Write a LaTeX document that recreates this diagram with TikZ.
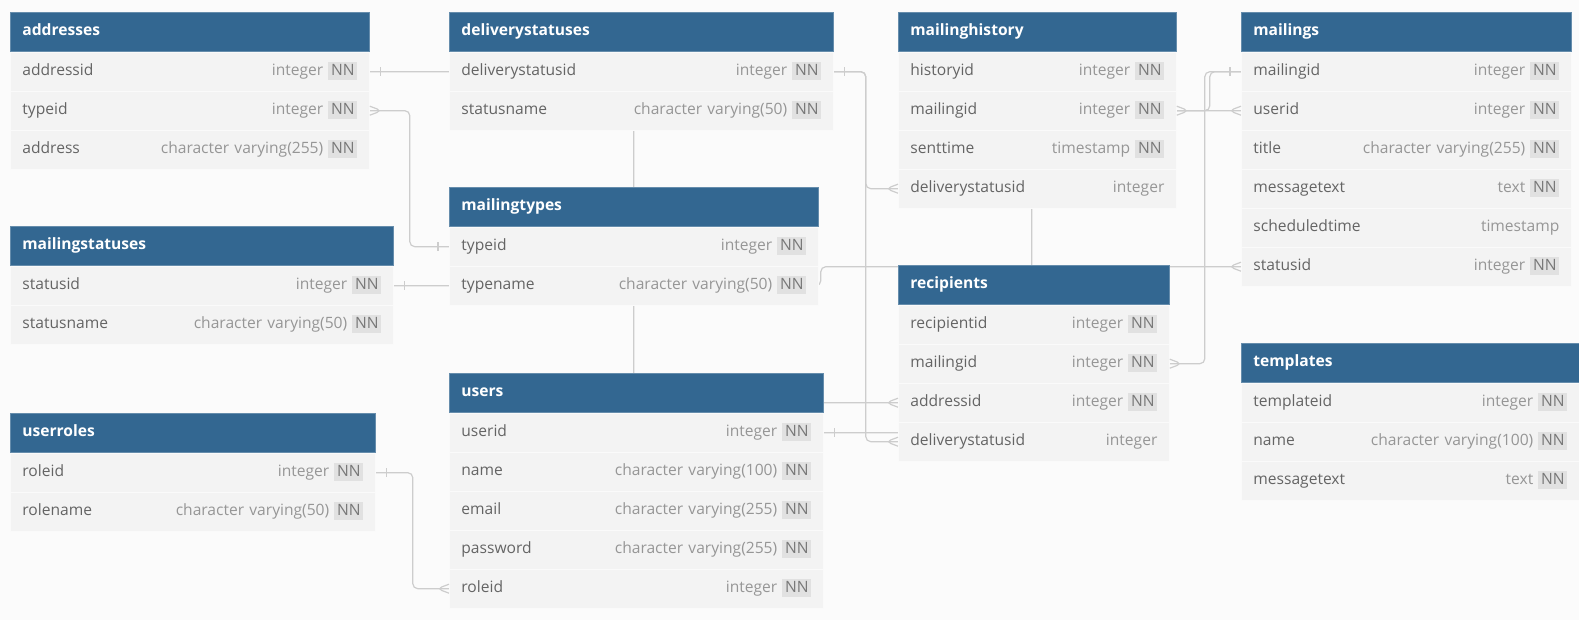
\documentclass[tikz,border=0pt]{standalone}
\usepackage{fontspec}
\setmainfont{Open Sans}
\usetikzlibrary{backgrounds}

\definecolor{cabecera}{RGB}{51,103,145}
\definecolor{fila}{RGB}{243,243,243}
\definecolor{nombre}{RGB}{100,100,100}
\definecolor{tipo}{RGB}{150,150,150}
\definecolor{insignia}{RGB}{225,225,225}
\definecolor{nnletra}{RGB}{120,120,120}
\definecolor{enlace}{RGB}{205,205,205}
\definecolor{fondo}{RGB}{251,251,251}

% Insignia NN
\newcommand{\marcaNN}{\hspace{2.5pt}{\setlength{\fboxsep}{1.4pt}%
  \colorbox{insignia}{\color{nnletra}\rule[-0.8pt]{0pt}{5.7pt}NN}}}

% Tabla: nombre, titulo, esquina, ancho (pt), campos
\newcommand{\erdtable}[5]{%
  \pgfmathsetmacro{\anchotexto}{#4-12}
  \node[tablehead, text width=\anchotexto pt] (#1) at (#3) {#2};
  \foreach \fname/\ftype/\fnn [count=\i] in {#5} {
    \node[fieldrow, text width=\anchotexto pt] (#1-\i)
      at ([yshift={-(\i-1)*19.5pt}]#1.south west)
      {\fname\hfill{\color{tipo}\ftype}\ifnum\fnn=1 \marcaNN\fi};
  }
}

% Extremos de relacion
\newcommand{\uno}[2]{%
  \draw[link] ([xshift=#2*5.5pt, yshift=2.25pt]#1) -- ([xshift=#2*5.5pt, yshift=-2.25pt]#1);}
\newcommand{\muchos}[2]{%
  \draw[link] ([yshift=2.25pt]#1) -- ([xshift=#2*6pt]#1) -- ([yshift=-2.25pt]#1);}

\begin{document}
\begin{tikzpicture}[x=0.5pt, y=-0.5pt,
    tablehead/.style={fill=cabecera, draw=cabecera!75!white, line width=0.4pt,
      text=white, font=\fontsize{7.8}{9}\selectfont\bfseries,
      inner xsep=6pt, inner ysep=0pt, minimum height=19.5pt,
      text height=5.8pt, text depth=1.8pt, align=left, anchor=north west},
    fieldrow/.style={fill=fila, draw=white!55!fila, line width=0.4pt,
      text=nombre, font=\fontsize{7.8}{9}\selectfont,
      inner xsep=6pt, inner ysep=0pt, minimum height=19.5pt,
      text height=5.8pt, text depth=1.8pt, align=left, anchor=north west},
    link/.style={draw=enlace, line width=0.6pt, rounded corners=2.5pt}]

  \useasboundingbox (0,0) rectangle (1579,620);

  % Tablas
  \erdtable{addresses}{addresses}{10,12}{179.5}{
    addressid/integer/1, typeid/integer/1, address/character varying(255)/1}
  \erdtable{deliverystatuses}{deliverystatuses}{449,12}{192}{
    deliverystatusid/integer/1, statusname/character varying(50)/1}
  \erdtable{mailinghistory}{mailinghistory}{898,12}{139}{
    historyid/integer/1, mailingid/integer/1, senttime/timestamp/1,
    deliverystatusid/integer/0}
  \erdtable{mailings}{mailings}{1241,12}{165}{
    mailingid/integer/1, userid/integer/1, title/character varying(255)/1,
    messagetext/text/1, scheduledtime/timestamp/0, statusid/integer/1}
  \erdtable{mailingtypes}{mailingtypes}{449,187}{184.5}{
    typeid/integer/1, typename/character varying(50)/1}
  \erdtable{mailingstatuses}{mailingstatuses}{10,226}{191.5}{
    statusid/integer/1, statusname/character varying(50)/1}
  \erdtable{recipients}{recipients}{898,265}{135.5}{
    recipientid/integer/1, mailingid/integer/1, addressid/integer/1,
    deliverystatusid/integer/0}
  \erdtable{users}{users}{449,373}{187}{
    userid/integer/1, name/character varying(100)/1,
    email/character varying(255)/1, password/character varying(255)/1,
    roleid/integer/1}
  \erdtable{userroles}{userroles}{10,413}{182.5}{
    roleid/integer/1, rolename/character varying(50)/1}
  \erdtable{templates}{templates}{1241,343}{169}{
    templateid/integer/1, name/character varying(100)/1, messagetext/text/1}

  % Relaciones
  \begin{pgfonlayer}{background}
    \fill[fondo] (0,0) rectangle (1579,620);
    \draw[link] (addresses-1.east) -- ++(264,0) |- (recipients-3.west);
    \draw[link] (addresses-2.east) -- ++(40,0) |- (mailingtypes-1.west);
    \draw[link] (mailingstatuses-1.east) -- ++(427,0) |- (mailings-6.west);
    \draw[link] (userroles-1.east) -- ++(37,0) |- (users-5.west);
    \draw[link] (deliverystatuses-1.east) -- ++(32,0) |- (mailinghistory-4.west);
    \draw[link] (deliverystatuses-1.east) -- ++(32,0) |- (recipients-4.west);
    \draw[link] (users-1.east) -- ++(208,0) |- (mailings-2.west);
    \draw[link] (mailinghistory-2.east) -- ++(33,0) |- (mailings-1.west);
    \draw[link] (recipients-2.east) -- ++(35,0) |- (mailings-1.west);
  \end{pgfonlayer}

  % Cardinalidades
  \uno{addresses-1.east}{1}
  \muchos{addresses-2.east}{1}
  \uno{mailingtypes-1.west}{-1}
  \uno{mailingstatuses-1.east}{1}
  \muchos{mailings-6.west}{-1}
  \uno{userroles-1.east}{1}
  \muchos{users-5.west}{-1}
  \uno{deliverystatuses-1.east}{1}
  \muchos{mailinghistory-4.west}{-1}
  \muchos{recipients-4.west}{-1}
  \muchos{recipients-3.west}{-1}
  \uno{users-1.east}{1}
  \muchos{mailings-2.west}{-1}
  \muchos{mailinghistory-2.east}{1}
  \uno{mailings-1.west}{-1}
  \muchos{recipients-2.east}{1}

\end{tikzpicture}
\end{document}
